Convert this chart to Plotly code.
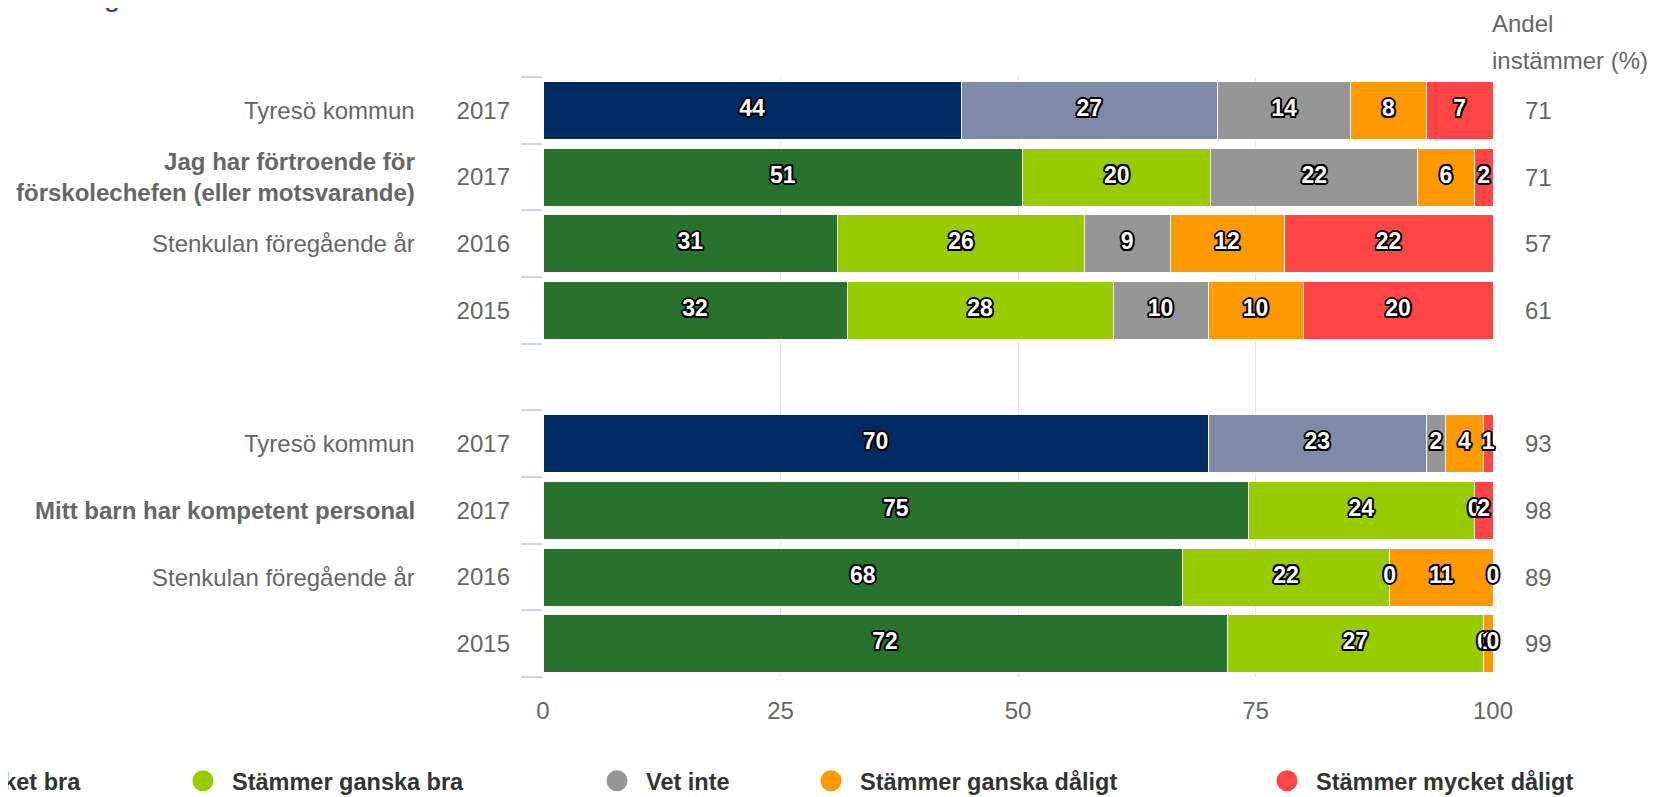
import plotly.graph_objects as go

# ---------------- data ----------------
row_ids = ["r1", "r2", "r3", "r4", "gap", "r6", "r7", "r8", "r9"]
row_names = [
    "Tyresö kommun",
    "<b>Jag har förtroende för<br>förskolechefen (eller motsvarande)</b>",
    "Stenkulan föregående år",
    "",
    "",
    "Tyresö kommun",
    "<b>Mitt barn har kompetent personal</b>",
    "Stenkulan föregående år",
    "",
]
row_years = ["2017", "2017", "2016", "2015", "", "2017", "2017", "2016", "2015"]
is_tyreso = [True, False, False, False, False, True, False, False, False]

series_names = ["Stämmer mycket bra", "Stämmer ganska bra", "Vet inte",
                "Stämmer ganska dåligt", "Stämmer mycket dåligt"]
mycket_bra = [44, 51, 31, 32, None, 70, 75, 68, 72]
ganska_bra = [27, 20, 26, 28, None, 23, 24, 22, 27]
vet_inte = [14, 22, 9, 10, None, 2, 0, 0, 0]
ganska_daligt = [8, 6, 12, 10, None, 4, 0, 11, 1]
mycket_daligt = [7, 2, 22, 20, None, 1, 2, 0, 0]
andel_instammer = [71, 71, 57, 61, None, 93, 98, 89, 99]
andel_title = ["Andel", "instämmer (%)"]

x_ticks = [0, 25, 50, 75, 100]

# ---------------- styles ----------------
series_colors = ["#27722d", "#99cc00", "#969696", "#ff9900", "#ff4545"]
tyreso_colors = ["#002b62", "#7f8aa6"]
FONT = "Liberation Sans, Arial, sans-serif"
GRAY = "#666666"

series_values = [mycket_bra, ganska_bra, vet_inte, ganska_daligt, mycket_daligt]

# percent stacking (normalise each row to 100)
row_sums = []
for i in range(len(row_ids)):
    vals = [s[i] for s in series_values]
    row_sums.append(None if vals[0] is None else sum(vals))

fig = go.Figure()

label_x, label_y, label_t = [], [], []
cum = [0.0] * len(row_ids)
for si, (name, vals) in enumerate(zip(series_names, series_values)):
    xs, ys, cols = [], [], []
    for i, v in enumerate(vals):
        if v is None:
            continue
        pct = v / row_sums[i] * 100
        xs.append(pct)
        ys.append(row_ids[i])
        if si < 2 and is_tyreso[i]:
            cols.append(tyreso_colors[si])
        else:
            cols.append(series_colors[si])
        label_x.append(cum[i] + pct / 2)
        label_y.append(row_ids[i])
        label_t.append(str(v))
        cum[i] += pct
    fig.add_trace(go.Bar(
        x=xs, y=ys, orientation="h", name=name,
        marker=dict(color=cols, line=dict(color="white", width=1)),
        showlegend=False, hoverinfo="skip",
    ))

outline = ", ".join(f"{dx}px {dy}px 0 #000" for dx, dy in
                    [(-2, 0), (2, 0), (0, -2), (0, 2), (-1.5, -1.5), (1.5, -1.5), (-1.5, 1.5), (1.5, 1.5)])
fig.add_trace(go.Scatter(
    x=label_x, y=label_y, text=label_t, mode="text",
    textposition="middle center",
    textfont=dict(family=FONT, size=23, color="white", weight="bold", shadow=outline),
    showlegend=False, hoverinfo="skip", cliponaxis=False,
))

# legend entries (one legend per item for exact placement)
legend_names = ["legend", "legend2", "legend3", "legend4", "legend5"]
for si, name in enumerate(series_names):
    fig.add_trace(go.Scatter(
        x=[None], y=[None], mode="markers", name=name,
        marker=dict(symbol="circle", size=16, color=series_colors[si],
                    line=dict(color=series_colors[si], width=5)),
        legend=legend_names[si], showlegend=True,
    ))

# geometry: screen px targets; the page body adds an 8px offset
OFF = 8
SW, SH = 1667, 797
W, H = SW - OFF, SH - OFF
L, T = 543 - OFF, 77 - OFF
PR, PB = 1493 - OFF, 677 - OFF
pw, ph = PR - L, PB - T
R, B = W - PR, H - PB


def px_x(sx):
    return (sx - OFF - L) / pw


def px_y(sy):
    return (PB - (sy - OFF)) / ph


annotations = []
for rid, nm in zip(row_ids, row_names):
    if nm:
        annotations.append(dict(
            x=px_x(417), xref="paper", y=rid, yref="y", text=nm,
            xanchor="right", yanchor="middle", align="right", showarrow=False,
            font=dict(family=FONT, size=24, color=GRAY)))
for rid, tot in zip(row_ids, andel_instammer):
    if tot is not None:
        annotations.append(dict(
            x=px_x(1538), xref="paper", y=rid, yref="y", text=str(tot),
            xanchor="center", yanchor="middle", showarrow=False,
            font=dict(family=FONT, size=24, color=GRAY)))
for line, sy in zip(andel_title, [23.5, 60]):
    annotations.append(dict(
        x=px_x(1490), xref="paper", y=px_y(sy), yref="paper",
        text=line, xanchor="left", yanchor="middle", align="left",
        showarrow=False, font=dict(family=FONT, size=24, color=GRAY)))
annotations.append(dict(
    x=px_x(122), xref="paper", y=px_y(14), yref="paper",
    text="Ledning", xanchor="right", yanchor="bottom", showarrow=False,
    font=dict(family=FONT, size=29, color="#27389e")))

legend_font = dict(family=FONT, size=23.5, color="#333333", weight="bold")
legend_centers = [None, 203, 617, 831, 1287]
legend_common = dict(orientation="h", bgcolor="rgba(0,0,0,0)", borderwidth=0,
                     itemwidth=48, font=legend_font, yanchor="middle",
                     y=px_y(781), xref="paper", yref="paper")
layout_legends = {}
for li, lname in enumerate(legend_names):
    if li == 0:
        layout_legends[lname] = dict(x=px_x(87), xanchor="right", **legend_common)
    else:
        layout_legends[lname] = dict(x=px_x(legend_centers[li] - 29), xanchor="left",
                                     **legend_common)

fig.update_layout(
    width=W, height=H,
    margin=dict(l=L, r=R, t=T, b=B, autoexpand=False),
    paper_bgcolor="white", plot_bgcolor="white",
    barmode="stack", bargap=0.13,
    font=dict(family=FONT, color=GRAY),
    annotations=annotations,
    xaxis=dict(range=[0, 100], tickvals=x_ticks, showgrid=True, gridcolor="#e6e6e6",
               gridwidth=1, zeroline=False, showline=False, ticks="",
               ticklabelstandoff=17,
               tickfont=dict(family=FONT, size=24, color=GRAY), fixedrange=True),
    yaxis=dict(type="category", categoryorder="array", categoryarray=row_ids,
               range=[len(row_ids) - 0.5, -0.5],
               tickmode="array", tickvals=row_ids, ticktext=row_years,
               tickson="boundaries", ticks="outside", ticklen=21, tickwidth=2,
               tickcolor="#ccd6eb", showgrid=False, showline=False, zeroline=False,
               ticklabelstandoff=32,
               tickfont=dict(family=FONT, size=24, color=GRAY)),
    **layout_legends,
)

fig.write_html("out.html")
